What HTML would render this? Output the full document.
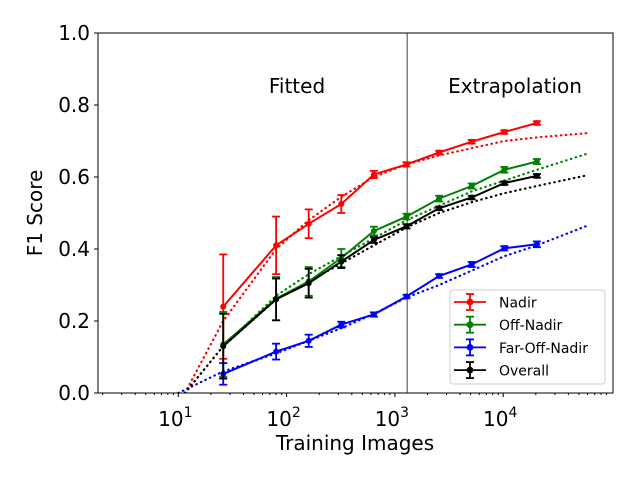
<!DOCTYPE html>
<html><head><meta charset="utf-8"><style>
body{margin:0;background:#fff;}
svg{display:block;font-family:"DejaVu Sans","Liberation Sans",sans-serif;}
</style></head><body>
<svg id="chart" width="640" height="480" viewBox="0 0 640 480">
<rect width="640" height="480" fill="#fff"/>
<g id="plot"></g>
</svg>
<script>
const xs = [26, 80, 160, 320, 640, 1280, 2560, 5120, 10240, 20480];
const nadir = [0.24, 0.41, 0.47, 0.525, 0.607, 0.635, 0.668, 0.698, 0.725, 0.75];
const nadirErr = [0.145, 0.08, 0.04, 0.025, 0.01, 0.006, 0.005, 0.005, 0.005, 0.005];
const offNadir = [0.135, 0.262, 0.31, 0.375, 0.45, 0.49, 0.54, 0.575, 0.62, 0.643];
const offNadirErr = [0.09, 0.06, 0.04, 0.025, 0.012, 0.008, 0.008, 0.007, 0.008, 0.007];
const farOff = [0.053, 0.115, 0.145, 0.19, 0.218, 0.268, 0.325, 0.357, 0.402, 0.413];
const farOffErr = [0.03, 0.022, 0.017, 0.008, 0.006, 0.005, 0.005, 0.007, 0.006, 0.008];
const overall = [0.13, 0.26, 0.305, 0.365, 0.425, 0.463, 0.513, 0.543, 0.583, 0.603];
const overallErr = [0.09, 0.058, 0.04, 0.018, 0.008, 0.006, 0.005, 0.005, 0.005, 0.005];
const fitX = [11.5, 26, 80, 160, 320, 640, 1280, 2560, 5120, 10240, 20480, 60000];
const fitNadir = [0, 0.20, 0.40, 0.48, 0.545, 0.60, 0.635, 0.66, 0.68, 0.70, 0.71, 0.722];
const fitOff = [0, 0.13, 0.27, 0.33, 0.38, 0.43, 0.48, 0.52, 0.56, 0.59, 0.62, 0.665];
const fitOverall = [0, 0.13, 0.26, 0.31, 0.36, 0.41, 0.46, 0.50, 0.53, 0.555, 0.575, 0.605];
const fitFarX = [10, 26, 80, 160, 320, 640, 1280, 2560, 5120, 10240, 20480, 60000];
const fitFar = [0, 0.06, 0.11, 0.145, 0.18, 0.22, 0.265, 0.30, 0.34, 0.38, 0.41, 0.465];
const yTicks = [0, 0.2, 0.4, 0.6, 0.8, 1.0];
const yTickLabels = ["0.0","0.2","0.4","0.6","0.8","1.0"];
const xDecades = [1, 2, 3, 4];
const splitX = 1300;

const NS="http://www.w3.org/2000/svg";
const g=document.getElementById('plot');
const L=98,R=613,T=33,B=393;
const X=v=>178.3+(Math.log10(v)-1)*108.3;
const Y=v=>B-(v)*(B-T);
function mk(tag,at,parent){const e=document.createElementNS(NS,tag);for(const k in at)e.setAttribute(k,at[k]);(parent||g).appendChild(e);return e;}

const defs=mk('defs',{});const cp=mk('clipPath',{id:'c'},defs);mk('rect',{x:L,y:T,width:R-L,height:B-T},cp);

let e=mk('line',{x1:X(splitX),x2:X(splitX),y1:T,y2:B,stroke:'#808080','stroke-width':1.5});



const series=[
 {name:'nadir',c:'#ff0000',v:nadir,err:nadirErr,fx:fitX,fy:fitNadir,label:'Nadir'},
 {name:'off-nadir',c:'#008000',v:offNadir,err:offNadirErr,fx:fitX,fy:fitOff,label:'Off-Nadir'},
 {name:'far-off-nadir',c:'#0000ff',v:farOff,err:farOffErr,fx:fitFarX,fy:fitFar,label:'Far-Off-Nadir'},
 {name:'overall',c:'#000000',v:overall,err:overallErr,fx:fitX,fy:fitOverall,label:'Overall'}];

series.forEach(s=>{
 const fp=s.fx.map((x,i)=>X(x).toFixed(1)+','+Y(s.fy[i]).toFixed(1)).join(' ');
 e=mk('polyline',{points:fp,fill:'none',stroke:s.c,'stroke-width':2.2,'stroke-dasharray':'0.5 4.5','stroke-linecap':'round','clip-path':'url(#c)'});
 
 
});
series.forEach(s=>{
 const pts=xs.map((x,i)=>X(x).toFixed(1)+','+Y(s.v[i]).toFixed(1)).join(' ');
 e=mk('polyline',{points:pts,fill:'none',stroke:s.c,'stroke-width':2});
 
 
 xs.forEach((x,i)=>{
  const cx=X(x),y1=Y(s.v[i]+s.err[i]),y2=Y(s.v[i]-s.err[i]);
  const eg=mk('g',{stroke:s.c,'stroke-width':1.8});
  
  
  mk('line',{x1:cx,x2:cx,y1:y1,y2:y2},eg);
  mk('line',{x1:cx-4,x2:cx+4,y1:y1,y2:y1},eg);
  mk('line',{x1:cx-4,x2:cx+4,y1:y2,y2:y2},eg);
  e=mk('circle',{cx:cx,cy:Y(s.v[i]),r:3,fill:s.c});
  
  
 });
});

e=mk('rect',{x:L,y:T,width:R-L,height:B-T,fill:'none',stroke:'#000','stroke-width':1});



yTicks.forEach((t,i)=>{
 mk('line',{x1:L-4,x2:L,y1:Y(t),y2:Y(t),stroke:'#000'});
 e=mk('text',{x:L-8,y:Y(t)+7,'text-anchor':'end','font-size':20});
 e.textContent=yTickLabels[i];
 
 
});
for(let d=0;d<=4;d++){for(let m=1;m<10;m++){const v=m*Math.pow(10,d);const px=X(v);if(px<L||px>R)continue;
 mk('line',{x1:px,x2:px,y1:B,y2:B+(m==1?4:2),stroke:'#000'});}}
xDecades.forEach(d=>{
 e=mk('text',{x:X(Math.pow(10,d))-3,y:B+33,'text-anchor':'middle','font-size':20});
 e.textContent='10';
 const sp=mk('tspan',{dy:-9,'font-size':14},e);sp.textContent=String(d);
 
 
});

e=mk('text',{x:355,y:450,'text-anchor':'middle','font-size':20});e.textContent='Training Images';

e=mk('text',{x:42,y:213,'text-anchor':'middle','font-size':20,transform:'rotate(-90 42 213)'});e.textContent='F1 Score';

e=mk('text',{x:297,y:93,'text-anchor':'middle','font-size':20});e.textContent='Fitted';

e=mk('text',{x:515,y:93,'text-anchor':'middle','font-size':20});e.textContent='Extrapolation';


const lg=mk('g',{});


mk('rect',{x:450,y:290,width:155,height:94,rx:3,fill:'#fff',stroke:'#ccc','fill-opacity':0.8},lg);
series.forEach((s,i)=>{
 const y=302+i*22.7;
 const en=mk('g',{stroke:s.c,'stroke-width':1.8},lg);
 
 
 mk('line',{x1:454,x2:486,y1:y,y2:y},en);
 mk('line',{x1:470,x2:470,y1:y-8,y2:y+8},en);
 mk('line',{x1:466,x2:474,y1:y-8,y2:y-8},en);
 mk('line',{x1:466,x2:474,y1:y+8,y2:y+8},en);
 mk('circle',{cx:470,cy:y,r:2.5,fill:s.c},en);
 const t=mk('text',{x:499,y:y+5.5,'font-size':14,fill:'#000',stroke:'none'},en);t.textContent=s.label;
});
</script>
</body></html>
